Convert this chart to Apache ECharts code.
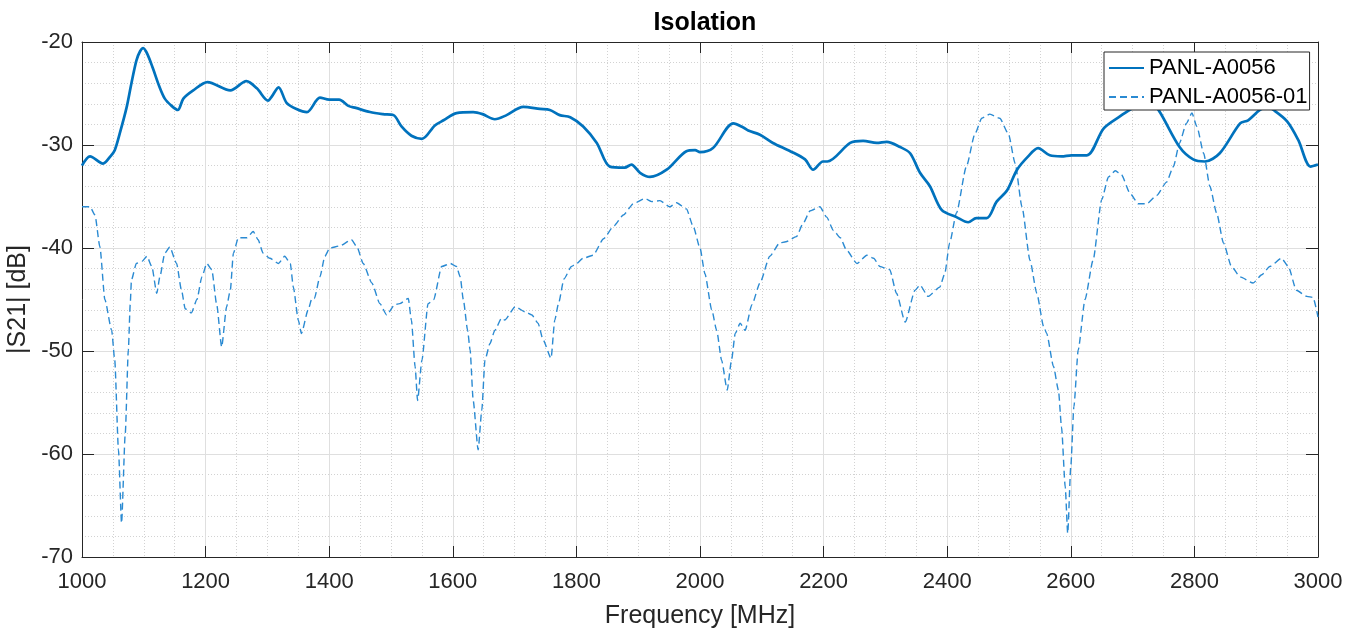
<!DOCTYPE html>
<html>
<head>
<meta charset="utf-8">
<script src="https://cdn.jsdelivr.net/npm/echarts@6/dist/echarts.min.js"></script>
<style>
html,body{margin:0;padding:0;background:#fff;}
#c{width:1362px;height:633px;}
</style>
</head>
<body>
<div id="c"></div>
<script>
// ---- data ----
const seriesNames = ['PANL-A0056', 'PANL-A0056-01'];
const xTicks = [1000, 1200, 1400, 1600, 1800, 2000, 2200, 2400, 2600, 2800, 3000];
const yTicks = [-70, -60, -50, -40, -30, -20];

// [frequency MHz, |S21| dB]
const panlA0056 = [
[1000,-32.0],[1013,-31.1],[1034,-31.8],[1046,-31.1],[1053,-30.5],[1061,-28.9],[1072,-26.4],[1080,-24.0],
[1088,-21.8],[1094,-20.9],[1099,-20.6],[1106,-21.2],[1115,-22.6],[1125,-24.3],[1134,-25.5],[1145,-26.2],[1155,-26.6],
[1164,-25.5],[1180,-24.7],[1203,-23.9],[1240,-24.7],[1266,-23.8],[1283,-24.5],
[1301,-25.7],[1307,-25.3],[1318,-24.4],[1331,-25.9],[1347,-26.5],[1364,-26.8],[1385,-25.4],[1400,-25.6],
[1416,-25.6],[1431,-26.2],[1443,-26.4],[1466,-26.8],[1487,-27.0],[1504,-27.1],[1517,-28.2],[1533,-29.1],
[1550,-29.4],[1571,-28.1],[1585,-27.6],[1606,-26.9],[1633,-26.8],[1648,-27.0],[1668,-27.5],[1687,-27.1],
[1714,-26.3],[1741,-26.5],[1757,-26.6],[1773,-27.1],[1790,-27.3],[1811,-28.2],[1833,-29.8],[1854,-32.1],
[1878,-32.2],[1889,-31.9],[1903,-32.7],[1919,-33.1],[1946,-32.4],[1978,-30.6],[1992,-30.5],[2000,-30.7],
[2021,-30.3],[2054,-27.9],[2070,-28.3],[2078,-28.6],[2097,-29.0],[2118,-29.8],[2146,-30.6],[2170,-31.4],
[2183,-32.4],[2199,-31.6],[2206,-31.6],[2243,-29.8],[2264,-29.6],[2286,-29.8],[2302,-29.7],[2324,-30.2],
[2340,-30.8],[2356,-32.7],[2372,-34.0],[2391,-36.3],[2415,-37.0],[2434,-37.5],[2447,-37.1],[2464,-37.1],
[2480,-35.5],[2497,-34.4],[2513,-32.4],[2531,-31.1],[2547,-30.3],[2566,-31.0],[2585,-31.1],[2601,-31.0],
[2626,-31.0],[2653,-28.4],[2680,-27.2],[2701,-26.4],[2720,-26.1],[2732,-26.0],[2744,-26.8],[2776,-30.2],
[2798,-31.4],[2817,-31.6],[2841,-30.8],[2874,-27.9],[2887,-27.6],[2906,-26.6],[2918,-26.3],[2928,-26.6],
[2950,-27.7],[2968,-29.5],[2988,-32.1],[3000,-31.9]
];

const panlA0056_01 = [
[1000,-36.0],[1013,-36.0],[1021,-36.8],[1029,-39.9],[1037,-45.0],[1048,-48.0],[1053,-50.9],[1059,-59.6],
[1064,-66.7],[1070,-58.0],[1075,-49.9],[1078,-45.5],[1080,-43.1],[1088,-41.5],[1097,-41.3],[1105,-40.8],
[1113,-41.8],[1121,-44.4],[1126,-42.8],[1134,-40.5],[1142,-39.9],[1153,-41.5],[1161,-44.1],[1167,-45.9],
[1177,-46.3],[1186,-45.0],[1194,-42.8],[1202,-41.5],[1210,-42.1],[1218,-45.5],[1226,-49.6],[1234,-45.7],
[1240,-44.1],[1245,-40.5],[1253,-39.0],[1267,-39.0],[1277,-38.4],[1285,-39.2],[1293,-40.5],[1304,-41.0],
[1318,-41.5],[1328,-40.8],[1337,-41.5],[1342,-43.8],[1350,-47.0],[1355,-48.3],[1366,-46.0],[1372,-44.9],
[1376,-44.9],[1385,-42.8],[1393,-40.8],[1401,-40.0],[1417,-39.8],[1436,-39.2],[1445,-39.9],[1455,-41.5],
[1469,-43.4],[1482,-45.4],[1493,-46.5],[1506,-45.5],[1514,-45.4],[1528,-44.9],[1533,-47.0],[1539,-51.5],
[1543,-54.8],[1550,-50.9],[1560,-45.4],[1569,-45.0],[1582,-41.8],[1596,-41.5],[1606,-41.8],[1612,-42.8],
[1617,-45.0],[1624,-48.0],[1628,-49.9],[1633,-54.8],[1641,-59.6],[1647,-55.7],[1652,-50.9],[1660,-49.3],
[1668,-48.0],[1679,-46.8],[1684,-47.0],[1701,-45.7],[1717,-46.2],[1728,-46.5],[1738,-47.3],[1746,-48.9],
[1759,-50.7],[1765,-47.0],[1771,-45.4],[1780,-43.0],[1792,-41.8],[1798,-41.6],[1811,-41.0],[1827,-40.7],
[1844,-39.1],[1860,-37.9],[1876,-36.8],[1892,-35.7],[1911,-35.2],[1922,-35.5],[1935,-35.4],[1951,-36.0],
[1962,-35.6],[1978,-36.2],[1989,-37.9],[2000,-40.0],[2008,-42.5],[2019,-46.0],[2027,-48.0],[2035,-50.9],
[2044,-53.8],[2051,-50.9],[2057,-48.3],[2065,-47.3],[2073,-48.0],[2084,-45.5],[2097,-43.4],[2113,-40.8],
[2129,-39.5],[2139,-39.4],[2156,-38.9],[2167,-37.6],[2178,-36.4],[2194,-36.0],[2205,-37.0],[2216,-38.3],
[2227,-39.0],[2237,-40.2],[2254,-41.5],[2270,-40.7],[2281,-41.0],[2291,-41.8],[2307,-42.1],[2318,-44.4],
[2332,-47.2],[2348,-44.1],[2356,-43.6],[2369,-44.7],[2388,-43.8],[2396,-42.5],[2404,-39.5],[2415,-36.6],
[2431,-32.1],[2445,-28.9],[2456,-27.4],[2469,-27.0],[2485,-27.4],[2499,-28.9],[2510,-31.8],[2521,-36.0],
[2534,-41.2],[2545,-44.4],[2556,-47.6],[2561,-48.3],[2572,-51.5],[2580,-53.8],[2585,-57.4],[2591,-63.2],
[2595,-67.7],[2600,-61.2],[2605,-55.4],[2612,-49.9],[2623,-45.0],[2636,-41.2],[2650,-35.3],[2661,-33.1],
[2672,-32.5],[2682,-32.9],[2696,-34.7],[2709,-35.7],[2723,-35.7],[2739,-34.9],[2755,-33.6],[2766,-32.1],
[2776,-29.8],[2787,-27.9],[2796,-26.9],[2804,-28.2],[2815,-30.8],[2825,-34.0],[2836,-36.6],[2847,-39.5],
[2860,-41.8],[2874,-42.8],[2895,-43.4],[2909,-42.6],[2922,-41.8],[2941,-41.0],[2952,-41.8],[2965,-44.1],
[2982,-44.7],[2992,-44.8],[3000,-46.7]
];

// ---- chart ----
const FONT = '"Liberation Sans", Arial, Helvetica, sans-serif';
const AX = '#262626';
const chart = echarts.init(document.getElementById('c'), null, {renderer: 'canvas'});

const xMin = xTicks[0], xMax = xTicks[xTicks.length - 1], xInt = xTicks[1] - xTicks[0];
const yMin = yTicks[0], yMax = yTicks[yTicks.length - 1], yInt = yTicks[1] - yTicks[0];

const baseX = {
  type: 'value', min: xMin, max: xMax, interval: xInt,
  axisLine: {show: true, onZero: false, lineStyle: {color: AX, width: 1}},
  axisTick: {show: true, inside: true, length: 11, lineStyle: {color: AX}},
};
const baseY = {
  type: 'value', min: yMin, max: yMax, interval: yInt,
  axisLine: {show: true, onZero: false, lineStyle: {color: AX, width: 1}},
  axisTick: {show: true, inside: true, length: 12, lineStyle: {color: AX}},
};

chart.setOption({
  animation: false,
  backgroundColor: '#ffffff',
  title: {
    text: 'Isolation', left: 700, top: 6, textAlign: 'center',
    textStyle: {fontFamily: FONT, fontSize: 25, fontWeight: 'bold', color: '#000'}
  },
  grid: {left: 82, right: 44, top: 42, bottom: 76, containLabel: false, outerBoundsMode: 'none'},
  legend: {
    left: 1104, top: 52, orient: 'vertical',
    data: seriesNames,
    itemWidth: 35, itemHeight: 14, itemGap: 7,
    padding: [5, 2, 2, 4],
    borderColor: AX, borderWidth: 1, backgroundColor: '#ffffff',
    itemStyle: {opacity: 0},
    textStyle: {fontFamily: FONT, fontSize: 22, color: '#000', lineHeight: 22}
  },
  xAxis: [
    Object.assign({}, baseX, {
      position: 'bottom',
      name: 'Frequency [MHz]', nameLocation: 'middle', nameGap: 47,
      nameTextStyle: {fontFamily: FONT, fontSize: 25, color: AX},
      axisLabel: {fontFamily: FONT, fontSize: 22, color: AX, margin: 14, formatter: v => String(v)},
      splitLine: {show: true, lineStyle: {color: '#dfdfdf', width: 1}},
      minorTick: {show: false, splitNumber: 4},
      minorSplitLine: {show: true, lineStyle: {color: '#d2d2d2', width: 1, type: [1, 2]}}
    }),
    Object.assign({}, baseX, {
      position: 'top', axisLabel: {show: false}, splitLine: {show: false}
    })
  ],
  yAxis: [
    Object.assign({}, baseY, {
      position: 'left',
      name: '|S21| [dB]', nameLocation: 'middle', nameGap: 48,
      nameTextStyle: {fontFamily: FONT, fontSize: 25, color: AX},
      axisLabel: {fontFamily: FONT, fontSize: 22, color: AX, margin: 9, formatter: v => String(v)},
      splitLine: {show: true, lineStyle: {color: '#dfdfdf', width: 1}},
      minorTick: {show: false, splitNumber: 5},
      minorSplitLine: {show: true, lineStyle: {color: '#d2d2d2', width: 1, type: [1, 2]}}
    }),
    Object.assign({}, baseY, {
      position: 'right', axisLabel: {show: false}, splitLine: {show: false}
    })
  ],
  series: [
    {
      name: seriesNames[0], type: 'line', data: panlA0056,
      xAxisIndex: 0, yAxisIndex: 0,
      showSymbol: false, symbol: 'none', smooth: 0.3,
      lineStyle: {color: '#0072BD', width: 2.7},
      itemStyle: {color: '#0072BD'}, z: 3
    },
    {
      name: seriesNames[1], type: 'line', data: panlA0056_01,
      xAxisIndex: 0, yAxisIndex: 0,
      showSymbol: false, symbol: 'none', smooth: 0.2, smoothMonotone: 'x',
      lineStyle: {color: '#2a8ad2', width: 1.4, type: [7, 4]},
      itemStyle: {color: '#2a8ad2'}, z: 2
    }
  ]
});
</script>
</body>
</html>
